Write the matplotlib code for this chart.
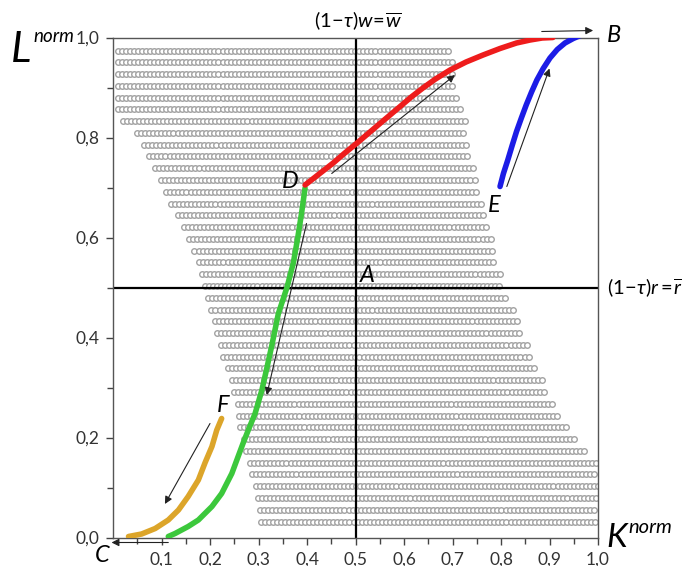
import matplotlib
matplotlib.use("Agg")
import matplotlib.pyplot as plt
import numpy as np

plt.rcParams["font.family"] = ["Lato", "DejaVu Sans"]
plt.rcParams["mathtext.fontset"] = "custom"
plt.rcParams["mathtext.rm"] = "Lato"
plt.rcParams["mathtext.it"] = "Lato:italic"

# grey feasible region: one row of dots per level, from left to right edge
row_top, row_bottom, n_rows = 0.974, 0.032, 41
row_left = [0.01, 0.01, 0.01, 0.01, 0.01, 0.01, 0.02, 0.05, 0.064, 0.075,
            0.087, 0.098, 0.11, 0.12, 0.133, 0.146, 0.156, 0.168, 0.178, 0.183,
            0.19, 0.195, 0.203, 0.21, 0.214, 0.222, 0.226, 0.237, 0.245, 0.249,
            0.258, 0.26, 0.262, 0.27, 0.274, 0.283, 0.287, 0.294, 0.298, 0.303,
            0.305]
row_right = [0.691, 0.701, 0.701, 0.705, 0.715, 0.72, 0.726, 0.726, 0.736, 0.736,
             0.746, 0.751, 0.757, 0.761, 0.767, 0.773, 0.781, 0.784, 0.792, 0.798,
             0.804, 0.814, 0.829, 0.839, 0.841, 0.854, 0.864, 0.874, 0.885, 0.895,
             0.907, 0.918, 0.942, 0.953, 0.977, 1.0, 1.0, 1.0, 1.0, 1.0, 1.0]

# trajectories
red_x = [0.396, 0.425, 0.454, 0.478, 0.502, 0.525, 0.548, 0.570, 0.592, 0.615,
         0.639, 0.665, 0.695, 0.728, 0.763, 0.798, 0.832, 0.860, 0.885, 0.907]
red_y = [0.705, 0.727, 0.749, 0.769, 0.788, 0.807, 0.826, 0.844, 0.862, 0.881,
         0.899, 0.917, 0.935, 0.951, 0.965, 0.978, 0.989, 0.995, 0.999, 1.0]
blue_x = [0.798, 0.805, 0.814, 0.823, 0.832, 0.842, 0.852, 0.863, 0.874, 0.887,
          0.901, 0.916, 0.932, 0.949, 0.966]
blue_y = [0.702, 0.728, 0.755, 0.784, 0.812, 0.839, 0.865, 0.891, 0.915, 0.938,
          0.959, 0.976, 0.989, 0.998, 1.005]
green_x = [0.396, 0.389, 0.381, 0.372, 0.359, 0.341, 0.327, 0.317, 0.307, 0.293,
           0.279, 0.268, 0.258, 0.245, 0.224, 0.204, 0.176, 0.155, 0.128, 0.114]
green_y = [0.699, 0.65, 0.60, 0.55, 0.501, 0.448, 0.382, 0.338, 0.295, 0.248,
           0.215, 0.188, 0.162, 0.128, 0.088, 0.062, 0.035, 0.022, 0.008, 0.002]
orange_x = [0.224, 0.214, 0.204, 0.19, 0.176, 0.155, 0.135, 0.114, 0.087, 0.059, 0.032]
orange_y = [0.238, 0.215, 0.182, 0.150, 0.115, 0.082, 0.055, 0.035, 0.018, 0.007, 0.002]

# direction arrows: (start, end)
arrows = [
    ((0.451, 0.728), (0.705, 0.925)),
    ((0.884, 1.012), (0.99, 1.014)),
    ((0.812, 0.702), (0.90, 0.938)),
    ((0.399, 0.628), (0.317, 0.285)),
    ((0.20, 0.228), (0.107, 0.067)),
    ((0.114, -0.01), (-0.003, -0.01)),
]

# point letters: (text, x, y, ha)
points = [
    ("A", 0.509, 0.512, "left"),
    ("B", 1.019, 0.990, "left"),
    ("C", -0.038, -0.049, "left"),
    ("D", 0.383, 0.700, "right"),
    ("E", 0.773, 0.652, "left"),
    ("F", 0.214, 0.252, "left"),
]

x_major = [0.1, 0.2, 0.3, 0.4, 0.5, 0.6, 0.7, 0.8, 0.9, 1.0]
x_labels = ["0,1", "0,2", "0,3", "0,4", "0,5", "0,6", "0,7", "0,8", "0,9", "1,0"]
y_major = [0.0, 0.2, 0.4, 0.6, 0.8, 1.0]
y_labels = ["0,0", "0,2", "0,4", "0,6", "0,8", "1,0"]

fig = plt.figure(figsize=(6.86, 5.66), dpi=100)
ax = fig.add_axes([113 / 686, 28.5 / 566, 485 / 686, 500 / 566])

levels = np.linspace(row_top, row_bottom, n_rows)
dx = 0.0083
for lev, lo, hi in zip(levels, row_left, row_right):
    xs = np.arange(lo, hi + 1e-9, dx)
    ax.plot(xs, np.full_like(xs, lev), ls="none", marker="o", ms=4.0,
            mfc="white", mec="#a2a2a2", mew=1.0, zorder=1)

ax.axvline(0.5, color="black", lw=1.6, zorder=2)
ax.axhline(0.5, color="black", lw=1.6, zorder=2)

line_kw = dict(lw=4, solid_capstyle="round", solid_joinstyle="round", zorder=3)
ax.plot(green_x, green_y, color="#3cc83c", **line_kw)
ax.plot(orange_x, orange_y, color="#dca52a", **line_kw)
ax.plot(red_x, red_y, color="#ee1c1c", **line_kw)
ax.plot(blue_x, blue_y, color="#1c1ce6", **line_kw)

for (x0, y0), (x1, y1) in arrows:
    ax.annotate("", xy=(x1, y1), xytext=(x0, y0), annotation_clip=False,
                arrowprops=dict(arrowstyle="-|>", lw=0.8, color="#222222",
                                mutation_scale=11, shrinkA=0, shrinkB=0),
                zorder=4)

for txt, x, y, ha in points:
    ax.text(x, y, txt, ha=ha, va="baseline", fontsize=17, style="italic",
            clip_on=False, zorder=5)

ax.set_xlim(0, 1)
ax.set_ylim(0, 1)
ax.set_xticks(x_major)
ax.set_xticklabels(x_labels)
ax.set_xticks(np.arange(0.05, 1.0, 0.1), minor=True)
ax.set_yticks(y_major)
ax.set_yticklabels(y_labels)
ax.set_yticks([0.1, 0.3, 0.5, 0.7, 0.9], minor=True)
ax.tick_params(which="major", length=5, width=1, color="#444444",
               labelsize=12.5, labelcolor="#333333", pad=5)
ax.tick_params(which="minor", length=4, width=1, color="#444444")
for sp in ax.spines.values():
    sp.set_color("#555555")
    sp.set_linewidth(1)

ax.text(0.505, 1.012, r"$(1\!-\!\tau)w\!=\!\overline{w}$", ha="center",
        va="bottom", fontsize=14.5, transform=ax.transAxes)
ax.text(1.018, 0.5, r"$(1\!-\!\tau)r\,\!=\!\overline{r}$", ha="left",
        va="center", fontsize=14.5, transform=ax.transAxes)

fig.text(11 / 686, 1 - 62 / 566, "L", fontsize=31, style="italic")
fig.text(33 / 686, 1 - 42 / 566, "norm", fontsize=13.5, style="italic")
fig.text(606 / 686, 1 - 547 / 566, "K", fontsize=24, style="italic")
fig.text(628 / 686, 1 - 533 / 566, "norm", fontsize=14.5, style="italic")

fig.savefig("out.png", dpi=100)
